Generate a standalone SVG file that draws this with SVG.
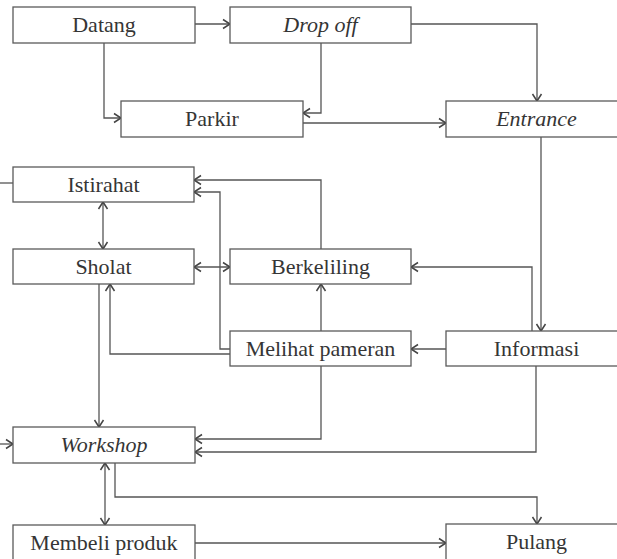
<svg xmlns="http://www.w3.org/2000/svg" width="617" height="559" viewBox="0 0 617 559">
  <style>
    .box { fill: #ffffff; stroke: #5a5a5a; stroke-width: 1.3; }
    .lbl { font-family: "Liberation Serif", "Times New Roman", serif; font-size: 22px; fill: #353535; text-anchor: middle; }
    .it { font-style: italic; }
    .con path { fill: none; stroke: #555555; stroke-width: 1.3; }
  </style>
  <defs>
    <!-- open chevron arrowhead, reversed at path starts for two-way links -->
    <marker id="arr" viewBox="-9 -6 11 12" refX="0" refY="0" markerWidth="11" markerHeight="12" markerUnits="userSpaceOnUse" orient="auto-start-reverse">
      <path d="M-7,-4.5 L0,0 L-7,4.5" fill="none" stroke="#444444" stroke-width="1.5"/>
    </marker>
  </defs>

  <rect width="617" height="559" fill="#ffffff"/>

  <!-- connectors -->
  <g id="connectors" class="con">
    <path d="M195,24 H230" marker-end="url(#arr)"/>
    <path d="M104,43 V118 H121" marker-end="url(#arr)"/>
    <path d="M321,43 V113 H303" marker-end="url(#arr)"/>
    <path d="M411,24 H537 V101" marker-end="url(#arr)"/>
    <path d="M303,123 H446" marker-end="url(#arr)"/>
    <path d="M541,137 V331" marker-end="url(#arr)"/>
    <path d="M0,183 H13"/>
    <path d="M321,249 V180 H194" marker-end="url(#arr)"/>
    <path d="M230,349 H220 V192 H194" marker-end="url(#arr)"/>
    <path d="M103,202 V249" marker-start="url(#arr)" marker-end="url(#arr)"/>
    <path d="M194,267 H230" marker-start="url(#arr)" marker-end="url(#arr)"/>
    <path d="M532,331 V267 H411" marker-end="url(#arr)"/>
    <path d="M446,349 H411" marker-end="url(#arr)"/>
    <path d="M230,354 H110 V284" marker-end="url(#arr)"/>
    <path d="M99,284 V427" marker-end="url(#arr)"/>
    <path d="M321,331 V284" marker-end="url(#arr)"/>
    <path d="M321,366 V439 H195" marker-end="url(#arr)"/>
    <path d="M536,366 V452 H195" marker-end="url(#arr)"/>
    <path d="M0,444 H13" marker-end="url(#arr)"/>
    <path d="M105,463 V525" marker-start="url(#arr)" marker-end="url(#arr)"/>
    <path d="M115,463 V497 H537 V524" marker-end="url(#arr)"/>
    <path d="M195,543 H446" marker-end="url(#arr)"/>
  </g>

  <!-- nodes -->
  <g id="datang"><rect class="box" x="13" y="7" width="182" height="36"/><text class="lbl" x="104" y="32">Datang</text></g>
  <g id="drop-off"><rect class="box" x="230" y="7" width="181" height="36"/><text class="lbl it" x="320.5" y="32">Drop off</text></g>
  <g id="parkir"><rect class="box" x="121" y="101" width="182" height="36"/><text class="lbl" x="212" y="126">Parkir</text></g>
  <g id="entrance"><rect class="box" x="446" y="101" width="182" height="36"/><text class="lbl it" x="536.5" y="126">Entrance</text></g>
  <g id="istirahat"><rect class="box" x="13" y="167" width="181" height="35"/><text class="lbl" x="103.5" y="192">Istirahat</text></g>
  <g id="sholat"><rect class="box" x="13" y="249" width="181" height="35"/><text class="lbl" x="103.5" y="274">Sholat</text></g>
  <g id="berkeliling"><rect class="box" x="230" y="249" width="181" height="35"/><text class="lbl" x="320.5" y="274">Berkeliling</text></g>
  <g id="melihat-pameran"><rect class="box" x="230" y="331" width="181" height="35"/><text class="lbl" x="320.5" y="356">Melihat pameran</text></g>
  <g id="informasi"><rect class="box" x="446" y="331" width="182" height="35"/><text class="lbl" x="536.5" y="356">Informasi</text></g>
  <g id="workshop"><rect class="box" x="13" y="427" width="182" height="36"/><text class="lbl it" x="104" y="452">Workshop</text></g>
  <g id="membeli-produk"><rect class="box" x="13" y="525" width="182" height="36"/><text class="lbl" x="104" y="550">Membeli produk</text></g>
  <g id="pulang"><rect class="box" x="446" y="524" width="182" height="36"/><text class="lbl" x="536.5" y="549">Pulang</text></g>
</svg>
